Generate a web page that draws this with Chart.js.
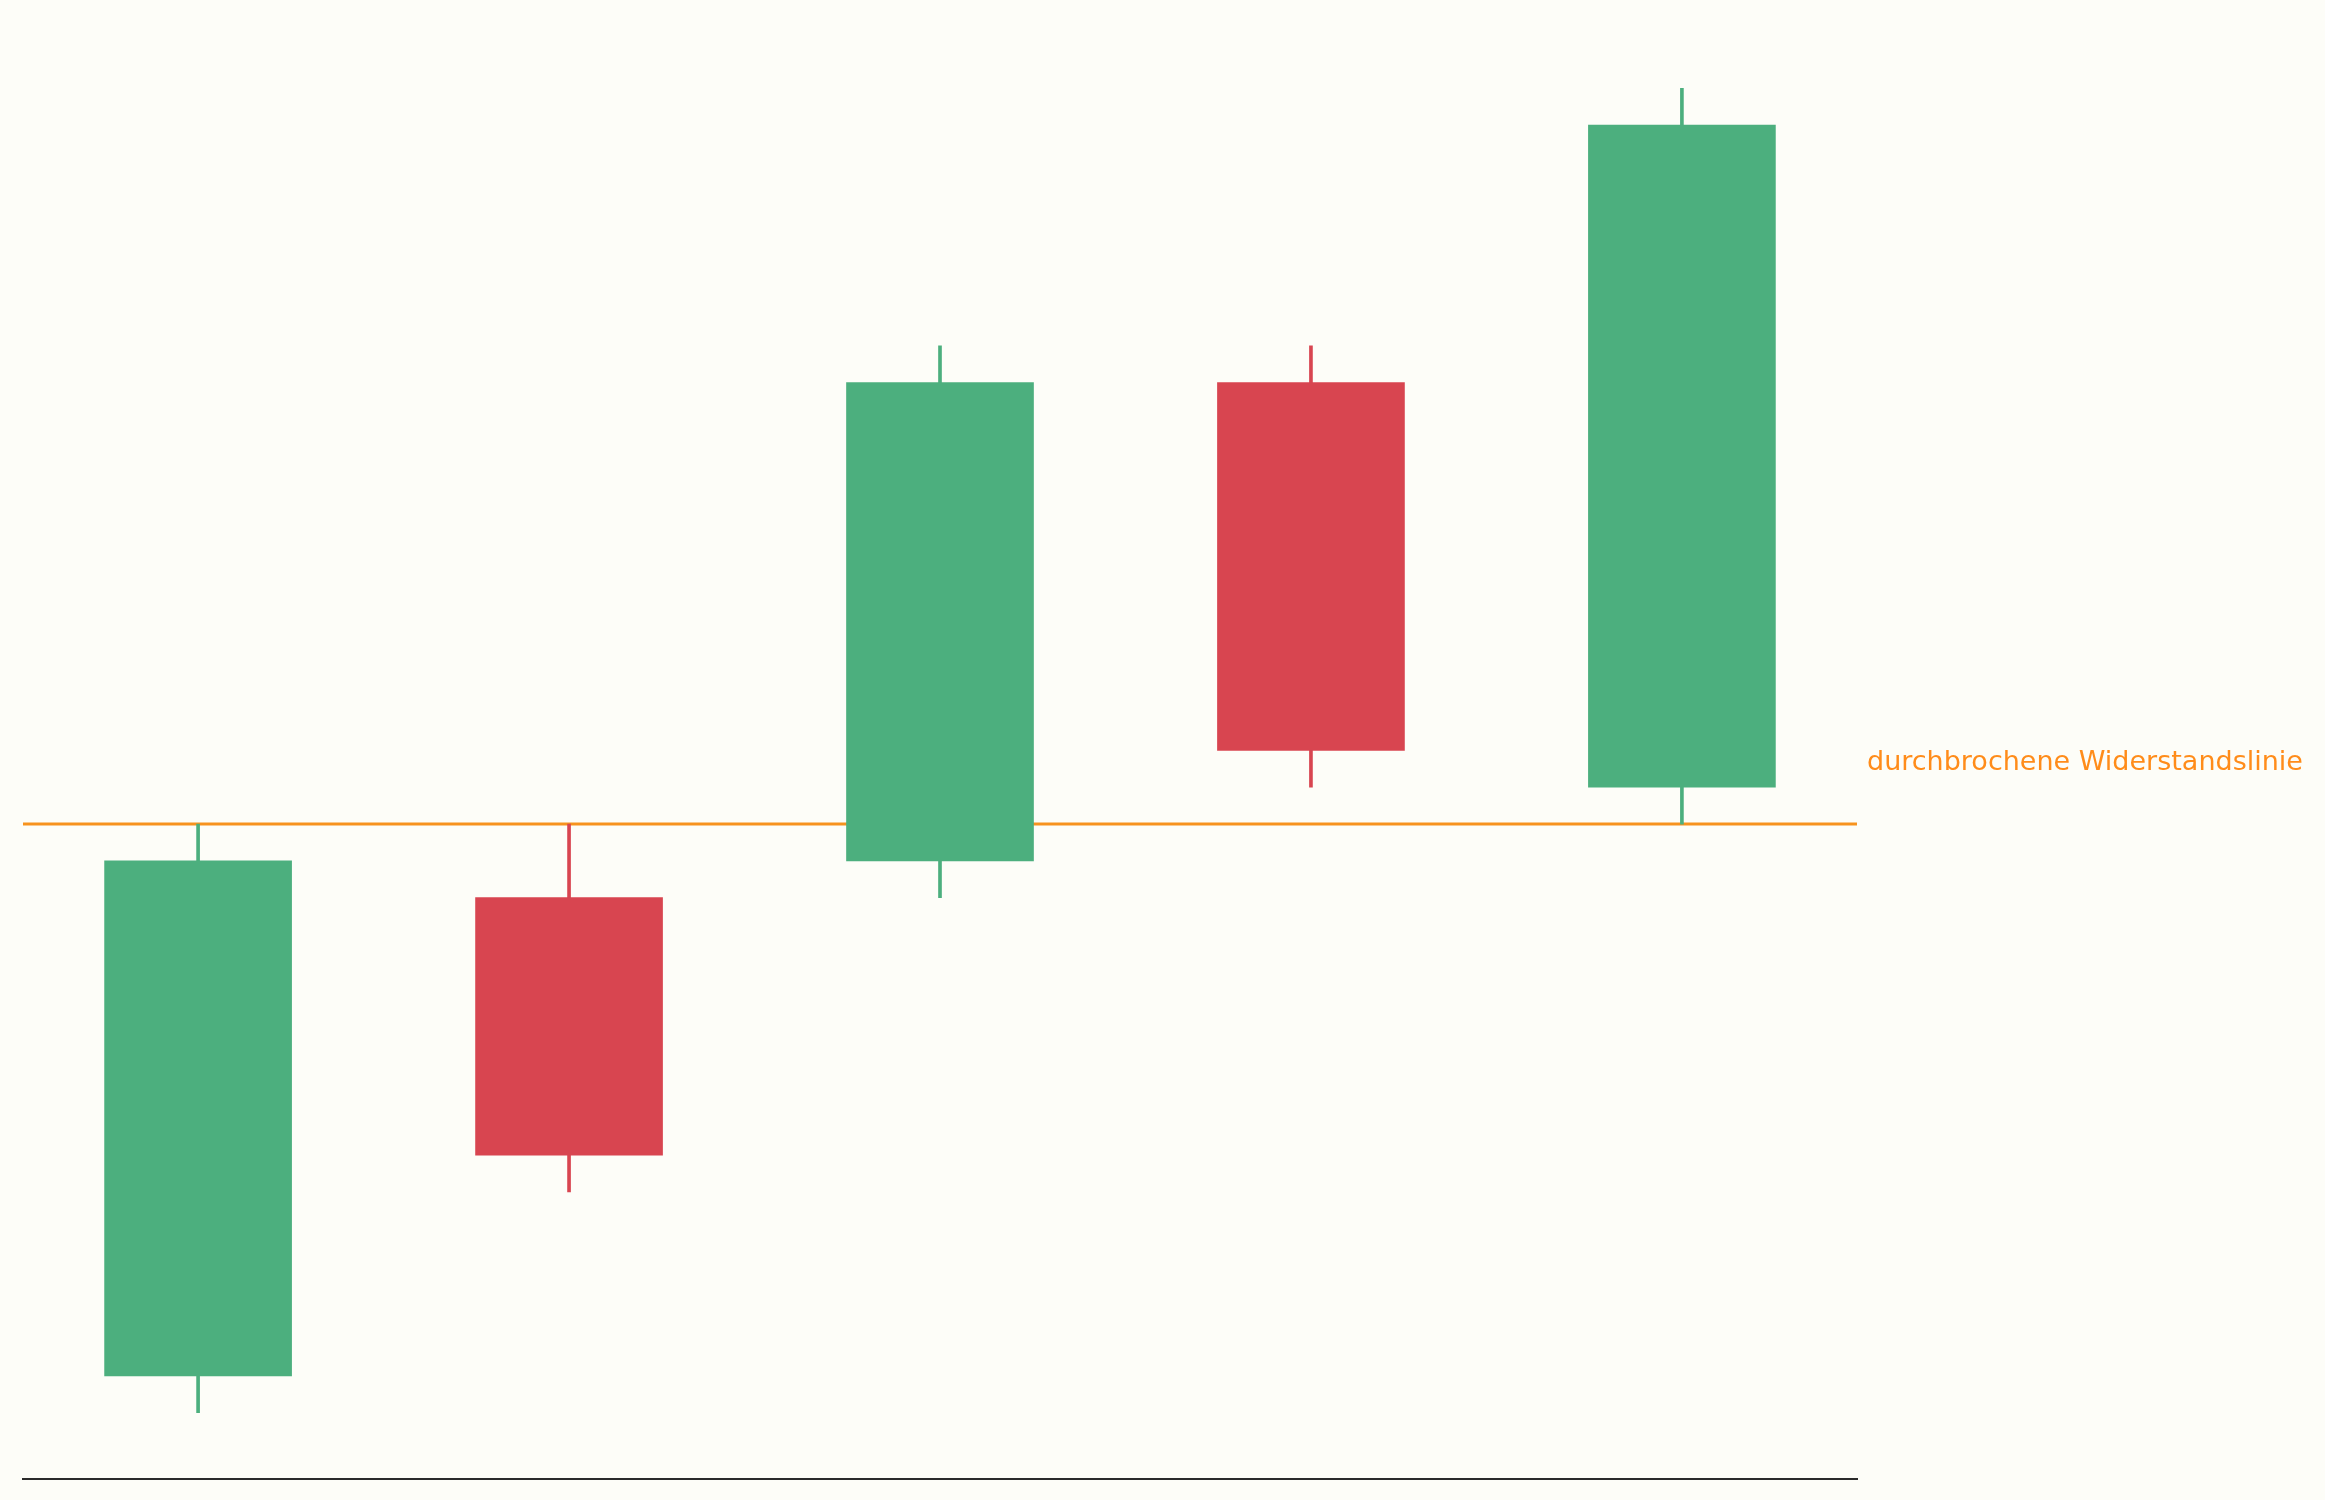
<!DOCTYPE html>
<html>
<head>
<meta charset="utf-8">
<script src="https://cdn.jsdelivr.net/npm/chart.js@4.4.1/dist/chart.umd.min.js"></script>
<style>
  html, body { margin: 0; padding: 0; background: #fdfdf8; }
  #wrap { width: 2325px; height: 1500px; position: relative; }
</style>
</head>
<body>
<div id="wrap"><canvas id="candleChart"></canvas></div>
<script>
// candle data (index 0..4)
const opens  = [85, 98, 99, 112, 101];
const highs  = [100, 100, 113, 113, 120];
const lows   = [84, 90, 98, 101, 100];
const closes = [99, 91, 112, 102, 119];
const resistance = 100;
const resistanceLabel = 'durchbrochene Widerstandslinie';

const upColor = '#4caf7e';
const downColor = '#d84550';
const lineColor = '#f7931e';

const xMin = -0.472, xMax = 4.472;

const colors = opens.map((o, i) => closes[i] >= o ? upColor : downColor);
const bodies = opens.map((o, i) => ({ x: i, y: [o, closes[i]] }));
const wicks = lows.map((l, i) => ({ x: i, y: [l, highs[i]] }));

const labelPlugin = {
    id: 'resistanceLabel',
    afterDatasetsDraw(chart) {
        const { ctx, chartArea, scales } = chart;
        const y = scales.y.getPixelForValue(resistance);
        ctx.save();
        ctx.font = '27px "DejaVu Sans"';
        ctx.fillStyle = '#ff8c1a';
        ctx.textAlign = 'left';
        ctx.textBaseline = 'alphabetic';
        ctx.fillText(resistanceLabel, chartArea.right + 10, y - 54);
        ctx.restore();
    }
};

const ctx = document.getElementById('candleChart').getContext('2d');
const chart = new Chart(ctx, {
    type: 'bar',
    data: {
        datasets: [
            {
                type: 'line',
                data: [{ x: xMin, y: resistance }, { x: xMax, y: resistance }],
                borderColor: lineColor,
                borderWidth: 3,
                pointRadius: 0,
                order: 3,
            },
            {
                data: wicks,
                backgroundColor: colors,
                barThickness: 3,
                grouped: false,
                borderWidth: 0,
                order: 2,
            },
            {
                data: bodies,
                backgroundColor: colors,
                barThickness: 187,
                grouped: false,
                borderWidth: 0,
                order: 1,
            },
        ],
    },
    options: {
        responsive: true,
        maintainAspectRatio: false,
        animation: false,
        events: [],
        layout: { padding: { left: 23, right: 468, top: 22, bottom: 21 } },
        plugins: {
            legend: { display: false },
            tooltip: { enabled: false },
        },
        scales: {
            x: {
                type: 'linear',
                min: xMin,
                max: xMax,
                offset: false,
                grid: { display: false, drawTicks: false },
                ticks: { display: false },
                border: { display: true, color: '#2b2b2b', width: 2 },
            },
            y: {
                display: false,
                min: 82.2,
                max: 121.8,
            },
        },
    },
    plugins: [labelPlugin],
});
</script>
</body>
</html>
